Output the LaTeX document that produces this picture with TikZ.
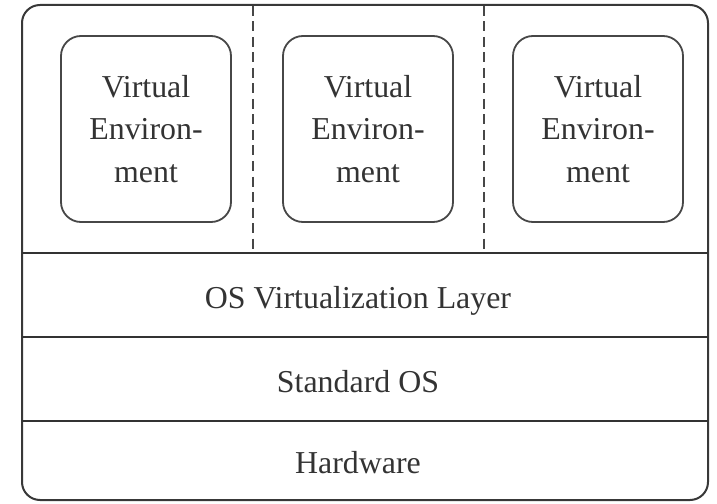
\documentclass[tikz,border=0pt]{standalone}
\usepackage{fontspec}
\setmainfont{Liberation Serif}
\begin{document}
\begin{tikzpicture}[x=1bp,y=-1bp,
  frame/.style={draw=black!78, line width=2bp},
  vebox/.style={draw=black!72, line width=1.8bp, rounded corners=20bp,
    minimum width=170bp, minimum height=186bp, align=center, inner sep=0pt,
    font=\fontsize{32}{43}\selectfont, text=black!80},
  layertext/.style={anchor=base, inner sep=0pt, font=\fontsize{32}{38}\selectfont, text=black!80},
  sepline/.style={draw=black!72, line width=2bp, dash pattern=on 10bp off 5.5bp},
  layerline/.style={draw=black!80, line width=2.2bp}]
\useasboundingbox (0,0) rectangle (717,504);
% outer frame
\draw[frame, rounded corners=18bp] (22,5) rectangle (708,500);
% layer boundaries
\coordinate (l1w) at (22,253);  \coordinate (l1e) at (708,253);
\coordinate (l2w) at (22,337);  \coordinate (l2e) at (708,337);
\coordinate (l3w) at (22,421);  \coordinate (l3e) at (708,421);
\draw[layerline] (l1w) -- (l1e);
\draw[layerline] (l2w) -- (l2e);
\draw[layerline] (l3w) -- (l3e);
% dashed separators
\coordinate (d1t) at (253,6);  \coordinate (d1b) at (253,252);
\coordinate (d2t) at (484,6);  \coordinate (d2b) at (484,252);
\draw[sepline] (d1t) -- (d1b);
\draw[sepline] (d2t) -- (d2b);
% virtual environments
\node[vebox] (ve1) at (146,129) {Virtual\\Environ-\\ment};
\node[vebox] (ve2) at (368,129) {Virtual\\Environ-\\ment};
\node[vebox] (ve3) at (598,129) {Virtual\\Environ-\\ment};
% layers
\node[layertext] (osv) at (358,308) {OS Virtualization Layer};
\node[layertext] (sos) at (358,392) {Standard OS};
\node[layertext] (hw) at (358,473) {Hardware};
\end{tikzpicture}
\end{document}
